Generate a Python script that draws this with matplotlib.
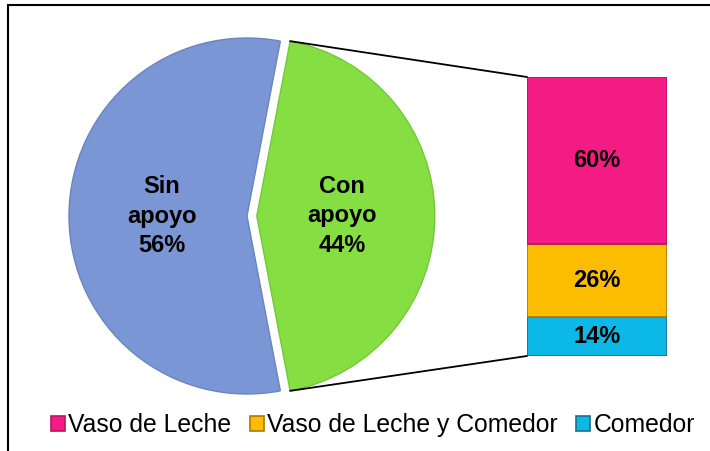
import matplotlib
matplotlib.use("Agg")
import matplotlib.pyplot as plt
from matplotlib.patches import ConnectionPatch, Patch, Rectangle
import numpy as np

plt.rcParams['font.family'] = ['Liberation Sans', 'DejaVu Sans']

# main pie data
pie_labels = ["Sin\napoyo", "Con\napoyo"]
pie_values = [56, 44]
pie_colors = ["#7b96d4", "#86df42"]
pie_edges = ["#6a84c0", "#74c836"]

# breakdown of "Con apoyo" (bottom to top in the bar)
bar_names = ["Comedor", "Vaso de Leche y Comedor", "Vaso de Leche"]
bar_values = [14, 26, 60]
bar_colors = ["#0cb8e6", "#fcbd00", "#f41c84"]
bar_edges = ["#1c6f88", "#a87c00", "#b81464"]
legend_order = ["Vaso de Leche", "Vaso de Leche y Comedor", "Comedor"]

W, H = 710, 451
fig = plt.figure(figsize=(W / 100, H / 100), dpi=100)

# pie axes: centre ~ (247, 216) px from top-left, radius ~178 px
r_px = 178
cx, cy = 247, H - 216
half = 1.25 * r_px
ax1 = fig.add_axes([(cx - half) / W, (cy - half) / H, 2 * half / W, 2 * half / H])
start = 360 * pie_values[1] / sum(pie_values) / 2
wedges, texts = ax1.pie(pie_values, labels=[f"{l}\n{v}%" for l, v in zip(pie_labels, pie_values)],
                        colors=pie_colors, startangle=start, explode=[0, 0.055],
                        labeldistance=0.48,
                        wedgeprops=dict(linewidth=1.0),
                        textprops=dict(fontsize=17, fontweight="bold", color="black",
                                       linespacing=1.35))
for w, ec in zip(wedges, pie_edges):
    w.set_edgecolor(ec)
for t in texts:
    t.set_ha("center")
ax1.set_xlim(-1.25, 1.25)
ax1.set_ylim(-1.25, 1.25)
ax1.set_aspect("equal")

# bar axes: x 527..667, y 77..356 px from top
ax2 = fig.add_axes([527 / W, (H - 356) / H, 140 / W, 279 / H])
bottom = 0
for name, v, c, ec in zip(bar_names, bar_values, bar_colors, bar_edges):
    bc = ax2.bar(0, v, width=1, bottom=bottom, color=c, edgecolor=ec, linewidth=1.2, label=name)
    ax2.bar_label(bc, labels=[f"{v}%"], label_type="center", fontsize=17, fontweight="bold")
    bottom += v
ax2.set_xlim(-0.5, 0.5)
ax2.set_ylim(0, sum(bar_values))
ax2.axis("off")

# connector lines from green wedge to the bar
g = wedges[1]
gx, gy = g.center
for ang, ybar in [(g.theta2, sum(bar_values)), (g.theta1, 0)]:
    x = gx + g.r * np.cos(np.radians(ang))
    y = gy + g.r * np.sin(np.radians(ang))
    con = ConnectionPatch(xyA=(-0.5, ybar), coordsA=ax2.transData,
                          xyB=(x, y), coordsB=ax1.transData,
                          color="black", linewidth=1.3)
    fig.add_artist(con)

# legend
handles = []
for name in legend_order:
    i = bar_names.index(name)
    handles.append(Patch(facecolor=bar_colors[i], edgecolor=bar_edges[i], linewidth=1.2, label=name))
fig.legend(handles=handles, loc="center", bbox_to_anchor=(373 / W, 26 / H), ncol=3,
           frameon=False, fontsize=17.8, handlelength=0.55, handleheight=0.55,
           handletextpad=0.15, columnspacing=0.75, borderpad=0)

# chart border (left and top visible)
fig.add_artist(Rectangle((8 / W, -0.1), 1.2, 1.1 - 5 / H, transform=fig.transFigure,
                         fill=False, edgecolor="black", linewidth=1.5, clip_on=False))

fig.savefig("out.png", dpi=100)
